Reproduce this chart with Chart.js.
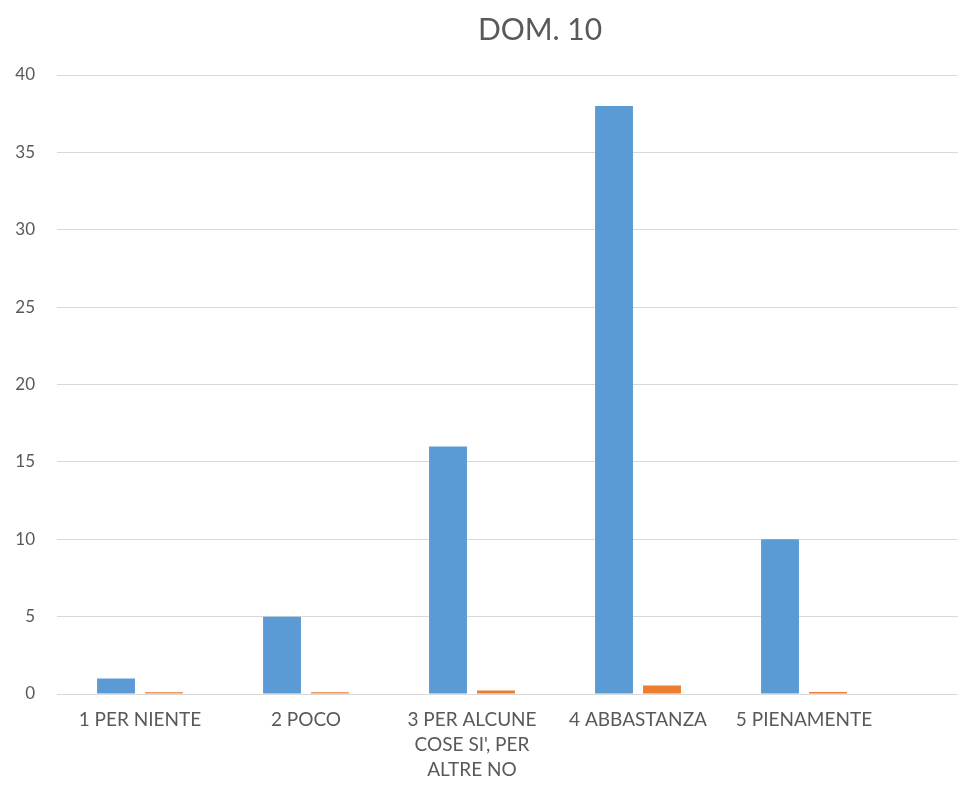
<!DOCTYPE html>
<html>
<head>
<meta charset="utf-8">
<script src="https://cdn.jsdelivr.net/npm/chart.js@4"></script>
<style>
html,body{margin:0;padding:0;background:#fff;overflow:hidden}
canvas{display:block}
</style>
</head>
<body>
<canvas id="domChart" width="1080" height="789"></canvas>
<script>
// categories (the last slot is empty, the picture is cut on the right)
const categories = [
  "1 PER NIENTE",
  "2 POCO",
  ["3 PER ALCUNE", "COSE SI', PER", "ALTRE NO"],
  "4 ABBASTANZA",
  "5 PIENAMENTE",
  ""
]
const countValues = [1, 5, 16, 38, 10, null]
const shareValues = [0.12, 0.12, 0.23, 0.55, 0.13, null]
const yTicks = [0, 5, 10, 15, 20, 25, 30, 35, 40]

const grey = "#595959"
const font = "Lato, 'Open Sans', sans-serif"

// the title is centred on the full (uncut) chart, not on the plot
const titleShift = {
  id: "titleShift",
  afterLayout: function (chart) {
    chart.titleBlock.left = 27
  }
}

new Chart(
  document.getElementById("domChart"),
  {
    type: "bar",
    data: {
      labels: categories,
      datasets: [{
        label: "Conteggio",
        data: countValues,
        backgroundColor: "#5b9bd5",
        categoryPercentage: 0.578,
        barPercentage: 0.79
      }, {
        label: "Percentuale",
        data: shareValues,
        backgroundColor: "#ed7d31",
        categoryPercentage: 0.578,
        barPercentage: 0.79
      }]
    },
    options: {
      responsive: false,
      animation: false,
      layout: {
        padding: { left: 0, right: 27, top: 0, bottom: 0 }
      },
      plugins: {
        legend: { display: false },
        tooltip: { enabled: false },
        title: {
          display: true,
          text: "DOM. 10",
          color: grey,
          font: { family: font, size: 30, weight: "normal" },
          padding: { top: 12, bottom: 27 }
        }
      },
      scales: {
        x: {
          grid: { display: false, drawTicks: false },
          border: { display: true, color: "#d9d9d9", width: 1 },
          ticks: {
            color: grey,
            font: { family: font, size: 19, lineHeight: "25px" },
            autoSkip: false,
            maxRotation: 0,
            minRotation: 0,
            padding: 13
          },
          afterFit: function (scale) { scale.height = 95 }
        },
        y: {
          min: 0,
          max: 40,
          afterBuildTicks: function (scale) {
            scale.ticks = yTicks.map(function (v) { return { value: v } })
          },
          grid: { color: "#d9d9d9", drawTicks: false },
          border: { display: false },
          ticks: {
            color: grey,
            font: { family: font, size: 17 },
            padding: 22
          },
          afterFit: function (scale) { scale.width = 57 }
        }
      }
    },
    plugins: [titleShift]
  }
)
</script>
</body>
</html>
